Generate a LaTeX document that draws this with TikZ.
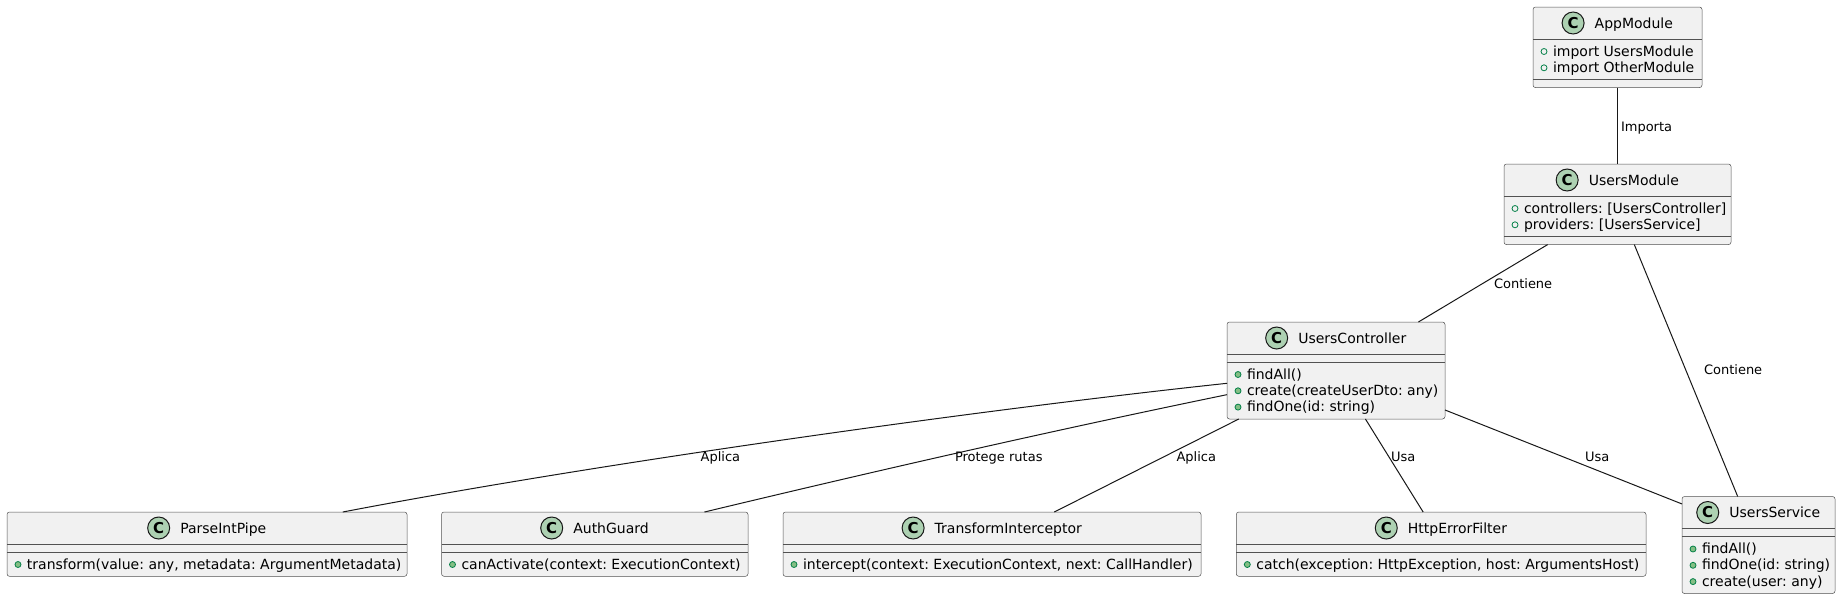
\documentclass[tikz,border=0pt]{standalone}
\usepackage{fontspec}
\setmainfont{DejaVu Sans}
\usetikzlibrary{calc}
\definecolor{boxfill}{HTML}{F1F1F1}
\definecolor{ink}{HTML}{181818}
\definecolor{cfill}{HTML}{ADD1B2}
\definecolor{visfill}{HTML}{84BE84}
\definecolor{visdraw}{HTML}{038048}
\tikzset{
 ubx/.style={rectangle, draw=ink!75, fill=boxfill, line width=0.5pt, rounded corners=2.5pt, inner sep=0pt, outer sep=0pt},
 sepl/.style={draw=ink!75, line width=0.5pt},
 utitle/.style={inner sep=0pt, outer sep=0pt, anchor=base, font=\fontsize{14}{16}\selectfont},
 cic/.style={circle, draw=ink, fill=cfill, line width=1pt, minimum size=22pt, inner sep=0pt, font=\bfseries\fontsize{15}{15}\selectfont},
 umem/.style={inner sep=0pt, outer sep=0pt, anchor=base west, font=\fontsize{14}{16}\selectfont},
 vpub/.style={circle, draw=visdraw, fill=visfill, minimum size=6pt, inner sep=0pt, line width=0.8pt},
 vfld/.style={circle, draw=visdraw, minimum size=6pt, inner sep=0pt, line width=0.8pt},
 conn/.style={draw=ink, line width=1pt},
 elab/.style={inner sep=0pt, outer sep=0pt, anchor=base west, font=\fontsize{13}{15}\selectfont},
}
% #1 id, #2 x1, #3 y1, #4 x2, #5 y2, #6 title
\newcommand\umlbox[6]{%
 \node[ubx, minimum width={(#4-#2)*1pt}, minimum height={(#5-#3)*1pt}] (#1) at ({(#2+#4)/2},{(#3+#5)/2}) {};
 \draw[sepl] (#2,#3+32) -- (#4,#3+32);
 \node[utitle] (#1-t) at ({(#2+#4)/2+16.3},#3+21) {#6};
 \node[cic] (#1-c) at ([xshift=-21.6pt,yshift=5pt]#1-t.base west) {C};
}
% #1 x1, #2 x2, #3 y
\newcommand\umlsep[3]{\draw[sepl] (#1,#3) -- (#2,#3);}
% #1 id, #2 style, #3 x1, #4 baseline, #5 text
\newcommand\umlmem[5]{%
 \node[umem] (#1) at (#3+20,#4) {#5};
 \node[#2] (#1-v) at (#3+11,#4-4.5) {};
}
\frenchspacing
\begin{document}
\frenchspacing
\begin{tikzpicture}[x=1pt,y=-1pt]
\fill[white] (0,0) rectangle (1841,598);
\useasboundingbox (0,0) rectangle (1841,598);

% AppModule
\umlbox{am}{1533}{7}{1702}{87.6}{AppModule}
\umlsep{1533}{1702}{79.6}
\umlmem{am1}{vfld}{1533}{56}{import UsersModule}
\umlmem{am2}{vfld}{1533}{72.3}{import OtherModule}

% UsersModule
\umlbox{um}{1504}{164}{1731}{244.6}{UsersModule}
\umlsep{1504}{1731}{236.6}
\umlmem{um1}{vfld}{1504}{213}{controllers: [UsersController]}
\umlmem{um2}{vfld}{1504}{229.3}{providers: [UsersService]}

% UsersController
\umlbox{uc}{1227}{322}{1445}{419}{UsersController}
\umlsep{1227}{1445}{362}
\umlmem{uc1}{vpub}{1227}{379}{findAll()}
\umlmem{uc2}{vpub}{1227}{395.3}{create(createUserDto: any)}
\umlmem{uc3}{vpub}{1227}{411.6}{findOne(id: string)}

% UsersService
\umlbox{us}{1682}{496.5}{1835}{593.5}{UsersService}
\umlsep{1682}{1835}{536.5}
\umlmem{us1}{vpub}{1682}{553.5}{findAll()}
\umlmem{us2}{vpub}{1682}{569.8}{findOne(id: string)}
\umlmem{us3}{vpub}{1682}{586.1}{create(user: any)}

% Bottom row
\umlbox{pp}{7}{512}{407}{576.3}{ParseIntPipe}
\umlsep{7}{407}{552}
\umlmem{pp1}{vpub}{7}{569}{transform(value: any, metadata: ArgumentMetadata)}

\umlbox{ag}{441.5}{512}{748}{576.3}{AuthGuard}
\umlsep{441.5}{748}{552}
\umlmem{ag1}{vpub}{441.5}{569}{canActivate(context: ExecutionContext)}

\umlbox{ti}{783}{512}{1201}{576.3}{TransformInterceptor}
\umlsep{783}{1201}{552}
\umlmem{ti1}{vpub}{783}{569}{intercept(context: ExecutionContext, next: CallHandler)}

\umlbox{hf}{1236.3}{512}{1646}{576.3}{HttpErrorFilter}
\umlsep{1236.3}{1646}{552}
\umlmem{hf1}{vpub}{1236.3}{569}{catch(exception: HttpException, host: ArgumentsHost)}

% Connectors
\draw[conn] (am.south) -- (um.north);
\draw[conn] ($(um.south west)!0.192!(um.south east)$) -- ($(uc.north west)!0.878!(uc.north east)$);
\draw[conn] ($(um.south west)!0.574!(um.south east)$) -- ($(us.north west)!0.364!(us.north east)$);
\draw[conn] ($(uc.north west)!0.632!(uc.south west)$) .. controls +(-250,26.7) and +(250,-48) .. ($(pp.north west)!0.8395!(pp.north east)$);
\draw[conn] ($(uc.north west)!0.749!(uc.south west)$) .. controls +(-175,36) and +(175,-42) .. ($(ag.north west)!0.858!(ag.north east)$);
\draw[conn] ($(uc.south west)!0.054!(uc.south east)$) -- ($(ti.north west)!0.649!(ti.north east)$);
\draw[conn] ($(uc.south west)!0.635!(uc.south east)$) -- ($(hf.north west)!0.456!(hf.north east)$);
\draw[conn] ($(uc.north east)!0.907!(uc.south east)$) -- ($(us.north west)!0.077!(us.south west)$);

% Labels
\node[elab] (l-imp) at (1621,131) {Importa};
\node[elab] (l-con1) at (1494,288) {Contiene};
\node[elab] (l-con2) at (1704,374.5) {Contiene};
\node[elab] (l-apl1) at (700.7,461) {Aplica};
\node[elab] (l-pro) at (955,461) {Protege rutas};
\node[elab] (l-apl2) at (1176.5,461) {Aplica};
\node[elab] (l-usa1) at (1391,461) {Usa};
\node[elab] (l-usa2) at (1585,461) {Usa};
\end{tikzpicture}
\end{document}
